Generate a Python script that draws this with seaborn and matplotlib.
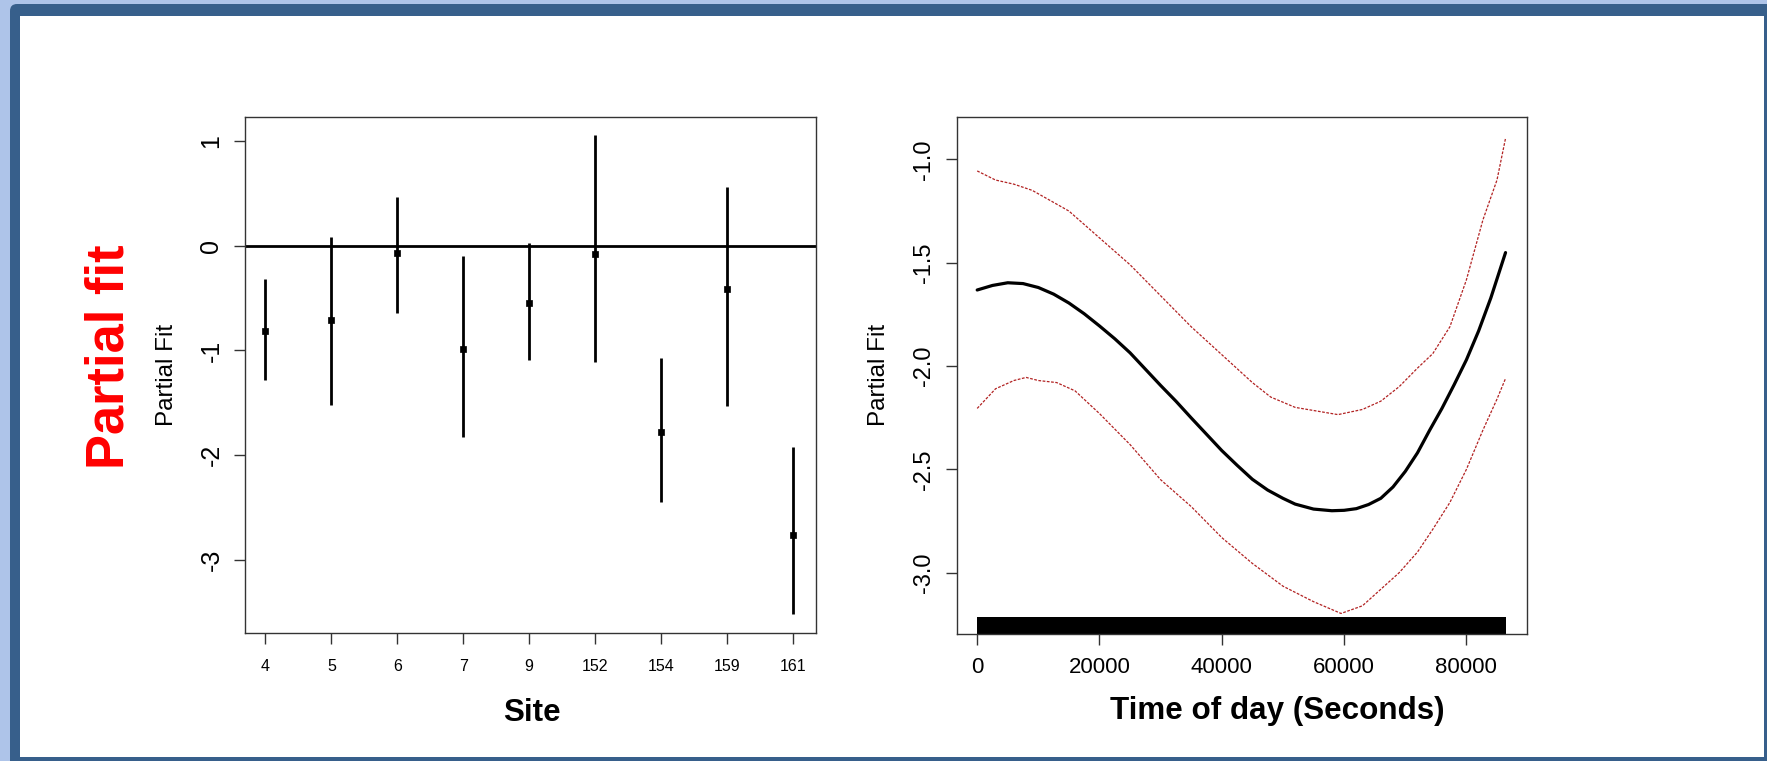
import matplotlib
matplotlib.use("Agg")
import matplotlib.pyplot as plt
import seaborn as sns
import numpy as np
import pandas as pd
from matplotlib import font_manager
from matplotlib.patches import FancyBboxPatch, Rectangle

# ---------------- data ----------------
sites = ["4", "5", "6", "7", "9", "152", "154", "159", "161"]
site_fit = [-0.81, -0.71, -0.07, -0.985, -0.55, -0.08, -1.78, -0.41, -2.76]
site_lower = [-1.28, -1.52, -0.64, -1.83, -1.09, -1.11, -2.45, -1.53, -3.52]
site_upper = [-0.32, 0.08, 0.47, -0.10, 0.03, 1.06, -1.07, 0.56, -1.92]
site_yticks = [-3, -2, -1, 0, 1]

fit_x = [0, 2500, 5000, 7500, 10000, 12500, 15000, 17500, 20000, 22500,
         25000, 27500, 30000, 32500, 35000, 37500, 40000, 42500, 45000,
         47500, 50000, 52000, 55000, 58000, 60000, 62000, 64000, 66000,
         68000, 70000, 72000, 74000, 76000, 78000, 80000, 82000, 84000, 86400]
fit_y = [-1.632, -1.610, -1.597, -1.601, -1.620, -1.652, -1.695, -1.747,
         -1.806, -1.868, -1.936, -2.015, -2.094, -2.170, -2.251, -2.330,
         -2.409, -2.480, -2.548, -2.600, -2.640, -2.668, -2.692, -2.700,
         -2.698, -2.690, -2.670, -2.640, -2.585, -2.510, -2.420, -2.310,
         -2.205, -2.090, -1.970, -1.830, -1.670, -1.451]

upper_x = [0, 3000, 6000, 9000, 12000, 15000, 20000, 25000, 30000, 35000,
           40000, 45000, 48000, 52000, 56000, 59000, 63000, 66000, 69000,
           72000, 74500, 77300, 80000, 82700, 85000, 86400]
upper_y = [-1.056, -1.10, -1.12, -1.15, -1.20, -1.25, -1.38, -1.51, -1.66,
           -1.81, -1.945, -2.08, -2.15, -2.20, -2.22, -2.235, -2.21, -2.17,
           -2.10, -2.01, -1.94, -1.81, -1.583, -1.293, -1.10, -0.898]

lower_x = [0, 3000, 6000, 8000, 10000, 13000, 16000, 20000, 25000, 30000,
           35000, 40000, 45000, 50000, 55000, 59500, 63000, 66000, 69000,
           72000, 74500, 77300, 80000, 82700, 85000, 86400]
lower_y = [-2.205, -2.11, -2.07, -2.055, -2.07, -2.08, -2.12, -2.23, -2.38,
           -2.55, -2.68, -2.83, -2.955, -3.065, -3.14, -3.197, -3.16, -3.08,
           -3.00, -2.90, -2.79, -2.66, -2.50, -2.31, -2.16, -2.06]

time_xticks = [0, 20000, 40000, 60000, 80000]
time_yticks = [-3.0, -2.5, -2.0, -1.5, -1.0]
rug_span = [0, 86400]

# ---------------- style ----------------
sns.set_style("white")
names = {f.name for f in font_manager.fontManager.ttflist}
base_font = "Liberation Sans" if "Liberation Sans" in names else "DejaVu Sans"
narrow_font = "Liberation Sans Narrow" if "Liberation Sans Narrow" in names else None
plt.rcParams["font.family"] = [base_font, "DejaVu Sans"]
for key in ["text.color", "axes.labelcolor", "xtick.color", "ytick.color"]:
    plt.rcParams[key] = "black"
narrow_scale = 1.0 if narrow_font else 0.85
if narrow_font is None:
    narrow_font = base_font

W, H = 1767, 761
fig = plt.figure(figsize=(W / 100, H / 100), dpi=100, facecolor="#aec4e9")

# slide frame
frame = FancyBboxPatch((0.10, -0.3), 18.5, 7.61 - 0.04 + 0.3,
                       boxstyle="round,pad=0,rounding_size=0.07",
                       transform=fig.dpi_scale_trans, facecolor="#375f8b",
                       edgecolor="none", zorder=-20)
fig.patches.append(frame)
inner = Rectangle((0.20, 0.04), 17.44, 7.415, transform=fig.dpi_scale_trans,
                  facecolor="white", edgecolor="none", zorder=-19)
fig.patches.append(inner)

spine_col = "#333333"

def style_axes(ax):
    for s in ax.spines.values():
        s.set_visible(True)
        s.set_color(spine_col)
        s.set_linewidth(1.0)
    ax.set_facecolor("white")
    ax.grid(False)

# ---------------- left panel ----------------
ax1 = fig.add_axes([245 / W, 1 - 633 / H, 571 / W, 516 / H])
style_axes(ax1)
pos = np.arange(len(sites))
df_site = pd.DataFrame({"pos": pos, "fit": site_fit,
                        "lo": site_lower, "hi": site_upper})
ax1.vlines(df_site["pos"], df_site["lo"], df_site["hi"], color="black", lw=2.0)
sns.scatterplot(data=df_site, x="pos", y="fit", marker="s", s=20,
                color="black", edgecolor="black", linewidth=0.5, ax=ax1,
                zorder=3, legend=False)
ax1.axhline(0, color="black", lw=2.0)
ax1.set_xlim(-0.31, 8.35)
ax1.set_ylim(-3.70, 1.23)
ax1.set_xticks(pos)
ax1.set_xticklabels(sites)
ax1.set_yticks(site_yticks)
ax1.set_yticklabels([str(v) for v in site_yticks])
ax1.tick_params(axis="x", direction="out", length=8, width=1, color=spine_col,
                labelsize=11.5, pad=10.5, bottom=True, labelcolor="black")
ax1.tick_params(axis="y", direction="out", length=8, width=1, color=spine_col,
                labelsize=18, pad=7.5, left=True, labelrotation=90,
                labelcolor="black")
for t in ax1.get_yticklabels():
    t.set_va("center")
ax1.set_xlabel("")
ax1.set_ylabel("Partial Fit", fontsize=17.5, color="black")
ax1.yaxis.set_label_coords(-0.117, 0.5)

# ---------------- right panel ----------------
ax2 = fig.add_axes([956.5 / W, 1 - 633.7 / H, 570.5 / W, 516.7 / H])
style_axes(ax2)
sns.lineplot(x=fit_x, y=fit_y, color="black", lw=2.3, ax=ax2, sort=False)
sns.lineplot(x=upper_x, y=upper_y, color="#b22222", lw=0.9, ax=ax2,
             sort=False, linestyle=(0, (2.2, 1.2)))
sns.lineplot(x=lower_x, y=lower_y, color="#b22222", lw=0.9, ax=ax2,
             sort=False, linestyle=(0, (2.2, 1.2)))
ax2.fill_between(rug_span, 0, 0.032, transform=ax2.get_xaxis_transform(),
                 color="black", lw=0)
ax2.set_xlim(-3385, 89910)
ax2.set_ylim(-3.295, -0.795)
ax2.set_xticks(time_xticks)
ax2.set_xticklabels([str(v) for v in time_xticks])
ax2.set_yticks(time_yticks)
ax2.set_yticklabels([f"{v:.1f}" for v in time_yticks])
ax2.tick_params(axis="x", direction="out", length=8, width=1, color=spine_col,
                labelsize=16, pad=9, bottom=True, labelcolor="black")
ax2.tick_params(axis="y", direction="out", length=8, width=1, color=spine_col,
                labelsize=17, pad=7.5, left=True, labelrotation=90,
                labelcolor="black")
for t in ax2.get_yticklabels():
    t.set_va("center")
ax2.set_xlabel("")
ax2.set_ylabel("Partial Fit", fontsize=17.5, color="black")
ax2.yaxis.set_label_coords(-0.1166, 0.5)

# ---------------- slide texts ----------------
fig.text(532 / W, 1 - 721 / H, "Site", ha="center", va="baseline",
         fontsize=26.6 * narrow_scale, fontweight="bold", color="black",
         family=[narrow_font, "DejaVu Sans"])
fig.text(1277 / W, 1 - 719 / H, "Time of day (Seconds)", ha="center",
         va="baseline", fontsize=26.6 * narrow_scale, fontweight="bold",
         color="black", family=[narrow_font, "DejaVu Sans"])
fig.text(109 / W, 1 - 357 / H, "Partial fit", ha="center", va="center",
         rotation=90, color="#ff0000", fontsize=45 * 0.84,
         fontweight="bold", family=[narrow_font, "DejaVu Sans"])

fig.savefig("out.png", dpi=100, facecolor=fig.get_facecolor())
